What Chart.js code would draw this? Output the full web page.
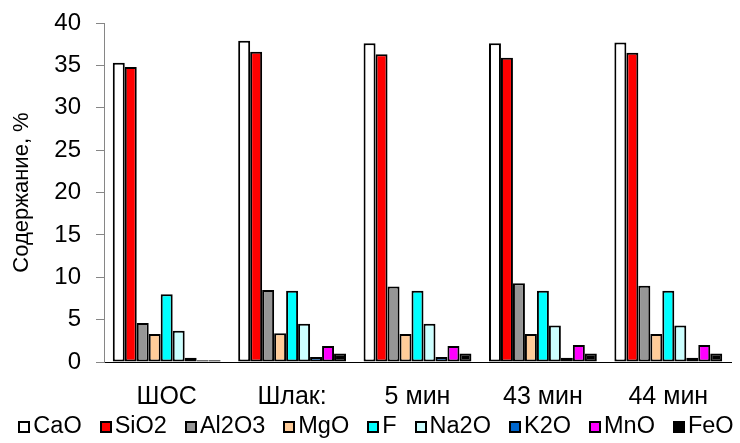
<!DOCTYPE html>
<html>
<head>
<meta charset="utf-8">
<script src="https://cdn.jsdelivr.net/npm/chart.js@4/dist/chart.umd.min.js"></script>
<style>
  html, body { margin: 0; padding: 0; background: #fff; }
  #wrap { width: 740px; height: 443px; position: relative; }
  #legend {
    position: absolute; left: 12px; top: 412px; width: 728px;
    display: flex; justify-content: center; align-items: baseline;
    font-family: 'Liberation Sans', Arial, sans-serif; font-size: 23.5px; color: #000;
    white-space: nowrap;
  }
  #legend span.item { margin: 0 9px; }
  #legend span.box {
    display: inline-block; width: 12px; height: 12px; box-sizing: border-box;
    border: 2px solid #000; margin-right: 3px; vertical-align: baseline;
  }
</style>
</head>
<body>
<div id="wrap"><canvas id="bar-chart"></canvas><div id="legend"></div></div>
<script>
// образцы
var samples = ["ШОС", "Шлак:", "5 мин", "43 мин", "44 мин"];
var yTicks = [0, 5, 10, 15, 20, 25, 30, 35, 40];

// содержание оксидов, %
var cao   = [35.3, 37.9, 37.6, 37.6, 37.7];
var sio2  = [34.8, 36.6, 36.3, 35.9, 36.5];
var al2o3 = [4.6, 8.5, 8.9, 9.3, 9.0];
var mgo   = [3.3, 3.4, 3.3, 3.3, 3.3];
var f     = [8.0, 8.4, 8.4, 8.4, 8.4];
var na2o  = [3.7, 4.5, 4.5, 4.3, 4.3];
var k2o   = [0.5, 0.6, 0.6, 0.5, 0.5];
var mno   = [0.2, 1.9, 1.9, 2.0, 2.0];
var feo   = [0.2, 1.0, 1.0, 1.0, 1.0];

var font = "'Liberation Sans', Arial, sans-serif";

function ds(label, data, color) {
	return {
		label: label,
		data: data,
		backgroundColor: color,
		borderColor: "#000",
		borderWidth: 2,
		borderSkipped: false,
		categoryPercentage: 0.86,
		barPercentage: 1.0
	};
}

var chart = new Chart(document.getElementById("bar-chart"), {
	type: 'bar',
	data: {
		labels: samples,
		datasets: [
			ds("CaO", cao, "#ffffff"),
			ds("SiO2", sio2, "#ff0000"),
			ds("Al2O3", al2o3, "#969696"),
			ds("MgO", mgo, "#ffcc99"),
			ds("F", f, "#00ffff"),
			ds("Na2O", na2o, "#ccffff"),
			ds("K2O", k2o, "#0066cc"),
			ds("MnO", mno, "#ff00ff"),
			ds("FeO", feo, "#000000")
		]
	},
	options: {
		responsive: true,
		maintainAspectRatio: false,
		animation: false,
		layout: { padding: { top: 23, right: 9, left: 0, bottom: 19 } },
		plugins: {
			tooltip: { enabled: false },
			legend: { display: false }
		},
		scales: {
			x: {
				grid: { display: false },
				border: { display: true, color: "#000", width: 1 },
				ticks: { color: "#000", font: { family: font, size: 25 }, padding: 12 }
			},
			y: {
				min: 0,
				max: 40,
				afterBuildTicks: function(scale) {
					scale.ticks = yTicks.map(function(v) { return { value: v }; });
				},
				afterFit: function(scale) {
					scale.width = 104;
					scale.paddingTop = 0;
				},
				grid: { drawOnChartArea: false, drawTicks: true, tickLength: 8, color: "#868686" },
				border: { display: true, color: "#868686", width: 1 },
				ticks: { color: "#000", font: { family: font, size: 24 }, padding: 15 },
				title: {
					display: true,
					text: "Содержание, %",
					color: "#000",
					font: { family: font, size: 22 },
					padding: { top: 9, bottom: 0 }
				}
			}
		}
	}
});

// легенда под диаграммой
var legend = document.getElementById("legend");
chart.data.datasets.forEach(function(d) {
	var item = document.createElement("span");
	item.className = "item";
	var box = document.createElement("span");
	box.className = "box";
	box.style.background = d.backgroundColor;
	item.appendChild(box);
	item.appendChild(document.createTextNode(d.label));
	legend.appendChild(item);
});
</script>
</body>
</html>
